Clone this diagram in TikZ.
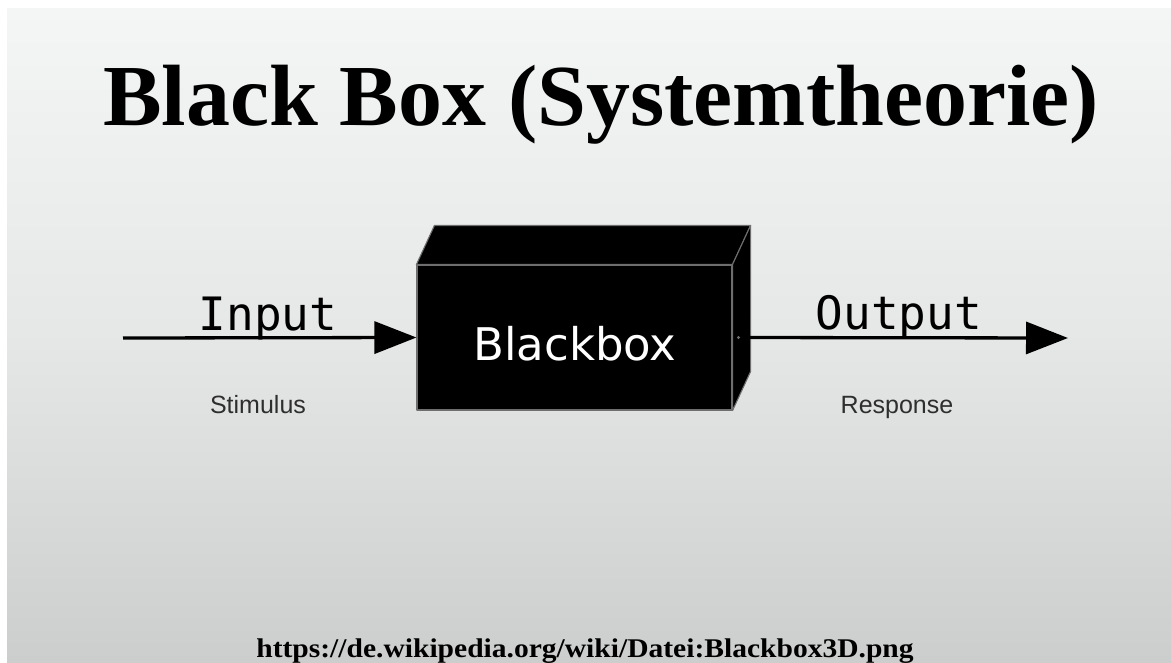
\documentclass[tikz,border=0pt]{standalone}
\usepackage{fontspec}
\setmainfont{Liberation Serif}
\newfontfamily\boxfont{DejaVu Sans}
\newfontfamily\monofont{DejaVu Sans Mono}
\newfontfamily\notefont{Liberation Sans}
\usetikzlibrary{arrows.meta,calc}
\definecolor{bgtop}{HTML}{F4F5F5}
\definecolor{bgmid}{HTML}{E6E7E7}
\definecolor{bgbot}{HTML}{CCCDCD}
\definecolor{edgegrey}{HTML}{6E6E6E}
\definecolor{notegrey}{HTML}{2E2E2E}
\tikzset{
  signal/.style={line width=3.3pt, -{Triangle[length=42pt,width=32pt]}},
  boxface/.style={fill=black, draw=edgegrey, line width=1.1pt, line join=round},
  labeltext/.style={anchor=base, inner sep=0pt, font=\monofont\fontsize{46}{50}\selectfont},
  notetext/.style={anchor=base, inner sep=0pt, text=notegrey, font=\notefont\fontsize{25}{28}\selectfont},
}
\begin{document}
\begin{tikzpicture}[x=1pt,y=-1pt]
  % page and slide background
  \useasboundingbox (0,0) rectangle (1171,662);
  \fill[white] (0,0) rectangle (1171,662);
  \shade[top color=bgtop, bottom color=bgmid] (7,8) rectangle (1171,330);
  \shade[top color=bgmid, bottom color=bgbot] (7,330) rectangle (1171,662);

  % title
  \node[anchor=base, inner sep=0pt, font=\bfseries\fontsize{87}{95}\selectfont] (title) at (601,125) {\scalebox{1.01}[1]{Black Box (Systemtheorie)}};

  % the black box: front face plus top and side faces
  \node[boxface, minimum width=315pt, minimum height=145pt, inner sep=0pt] (bb) at (574.5,337.5) {};
  \draw[boxface] (bb.north west) -- ++(18,-39) -- ($(bb.north east)+(18,-39)$) -- (bb.north east) -- cycle;
  \draw[boxface] (bb.north east) -- ($(bb.north east)+(18,-39)$) -- ($(bb.south east)+(18,-39)$) -- (bb.south east) -- cycle;
  \node[anchor=base, inner sep=0pt, text=white, font=\boxfont\fontsize{45}{50}\selectfont] (bbtext) at (575,360) {Blackbox};

  % input and output signals
  \coordinate (instart) at (123,338);
  \coordinate (outend) at (1068,338);
  \draw[signal] (instart) -- (bb.west);
  \draw[signal] ($(bb.east)+(6,0)$) -- (outend);
  \fill[edgegrey] ($(bb.east)+(6,0)$) circle (1.6pt);

  \node[labeltext] (input) at (268,330) {Input};
  \node[labeltext] (output) at (899,329) {Output};
  \node[notetext] (stimulus) at (258,413) {Stimulus};
  \node[notetext] (response) at (897,413) {Response};

  % source
  \node[anchor=base, inner sep=0pt, font=\bfseries\fontsize{27}{30}\selectfont] (source) at (585,657) {\scalebox{1.094}[1]{https://de.wikipedia.org/wiki/Datei:Blackbox3D.png}};
\end{tikzpicture}
\end{document}
